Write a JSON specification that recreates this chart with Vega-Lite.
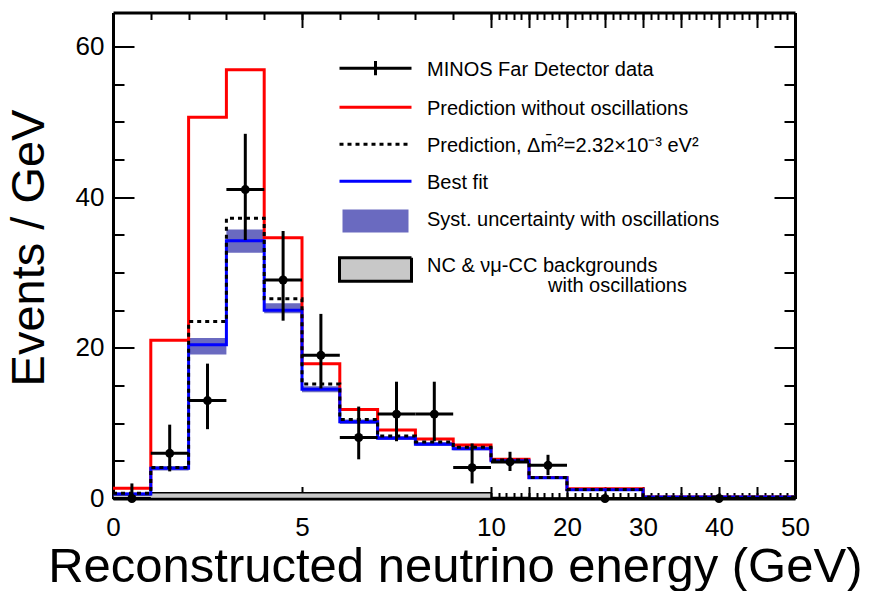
{
  "$schema": "https://vega.github.io/schema/vega-lite/v6.json",
  "width": 682,
  "height": 486,
  "autosize": {"type": "none"},
  "padding": {"left": 113, "top": 12.5, "right": 78, "bottom": 92.5},
  "background": "white",
  "config": {
    "view": {"stroke": null},
    "axis": {"grid": false, "labelFont": "Liberation Sans", "titleFont": "Liberation Sans", "labelColor": "black", "titleColor": "black", "tickColor": "black", "domainColor": "black", "tickWidth": 2, "domainWidth": 3, "titleFontWeight": "normal"},
    "legend": {"orient": "none", "legendX": 227, "legendY": 33.5, "title": null, "padding": 0,
      "symbolSize": 576, "symbolStrokeWidth": 3, "symbolOffset": 22, "labelOffset": 38,
      "rowPadding": 3, "labelFont": "Liberation Sans", "labelFontSize": 20, "labelColor": "black", "labelLimit": 0, "labelBaseline": "top"}
  },
  "datasets": {
    "hist": [
      {"e": 0, "nom": 1.35, "pred": 0.7, "fit": 0.6, "bg": 0.5},
      {"e": 1, "nom": 21.0, "pred": 4.1, "fit": 4.0, "bg": 0.75},
      {"e": 2, "nom": 50.6, "pred": 23.5, "fit": 20.4, "bg": 0.75},
      {"e": 3, "nom": 56.9, "pred": 37.2, "fit": 34.2, "bg": 0.75},
      {"e": 4, "nom": 34.6, "pred": 26.5, "fit": 25.0, "bg": 0.75},
      {"e": 5, "nom": 17.9, "pred": 15.2, "fit": 14.5, "bg": 0.75},
      {"e": 6, "nom": 11.8, "pred": 10.5, "fit": 10.2, "bg": 0.75},
      {"e": 7, "nom": 9.1, "pred": 8.3, "fit": 8.0, "bg": 0.75},
      {"e": 8, "nom": 7.9, "pred": 7.5, "fit": 7.2, "bg": 0.75},
      {"e": 9, "nom": 7.1, "pred": 6.8, "fit": 6.6, "bg": 0.75},
      {"e": 10, "nom": 5.2, "pred": 5.1, "fit": 5.0, "bg": 0.12},
      {"e": 15, "nom": 2.8, "pred": 2.8, "fit": 2.75, "bg": 0.08},
      {"e": 20, "nom": 1.3, "pred": 1.2, "fit": 1.15, "bg": 0.05},
      {"e": 30, "nom": 0.2, "pred": 0.2, "fit": 0.2, "bg": 0.02},
      {"e": 50, "nom": 0.2, "pred": 0.2, "fit": 0.2, "bg": 0.02}
    ],
    "syst": [
      {"lo": 0, "hi": 1, "slo": 0.45, "shi": 0.8},
      {"lo": 1, "hi": 2, "slo": 3.7, "shi": 4.3},
      {"lo": 2, "hi": 3, "slo": 19.1, "shi": 21.3},
      {"lo": 3, "hi": 4, "slo": 32.6, "shi": 35.7},
      {"lo": 4, "hi": 5, "slo": 24.6, "shi": 25.9},
      {"lo": 5, "hi": 6, "slo": 14.1, "shi": 14.9},
      {"lo": 6, "hi": 7, "slo": 9.9, "shi": 10.5},
      {"lo": 7, "hi": 8, "slo": 7.8, "shi": 8.3},
      {"lo": 8, "hi": 9, "slo": 7.0, "shi": 7.5},
      {"lo": 9, "hi": 10, "slo": 6.4, "shi": 6.9},
      {"lo": 10, "hi": 15, "slo": 4.85, "shi": 5.3},
      {"lo": 15, "hi": 20, "slo": 2.6, "shi": 2.95},
      {"lo": 20, "hi": 30, "slo": 1.05, "shi": 1.3},
      {"lo": 30, "hi": 50, "slo": 0.15, "shi": 0.25}
    ],
    "data": [
      {"E": 0.5, "lo": 0, "hi": 1, "n": 0, "elo": 0, "ehi": 2.0},
      {"E": 1.5, "lo": 1, "hi": 2, "n": 6.0, "elo": 3.6, "ehi": 9.8},
      {"E": 2.5, "lo": 2, "hi": 3, "n": 13.0, "elo": 9.2, "ehi": 17.9},
      {"E": 3.5, "lo": 3, "hi": 4, "n": 41.0, "elo": 34.3, "ehi": 48.4},
      {"E": 4.5, "lo": 4, "hi": 5, "n": 29.0, "elo": 23.6, "ehi": 35.5},
      {"E": 5.5, "lo": 5, "hi": 6, "n": 19.0, "elo": 14.6, "ehi": 24.5},
      {"E": 6.5, "lo": 6, "hi": 7, "n": 8.1, "elo": 5.2, "ehi": 12.2},
      {"E": 7.5, "lo": 7, "hi": 8, "n": 11.2, "elo": 7.6, "ehi": 15.5},
      {"E": 8.5, "lo": 8, "hi": 9, "n": 11.2, "elo": 7.6, "ehi": 15.5},
      {"E": 9.5, "lo": 9, "hi": 10, "n": 4.1, "elo": 2.0, "ehi": 7.3},
      {"E": 12.5, "lo": 10, "hi": 15, "n": 4.85, "elo": 3.65, "ehi": 6.2},
      {"E": 17.5, "lo": 15, "hi": 20, "n": 4.4, "elo": 3.1, "ehi": 5.8},
      {"E": 25, "lo": 20, "hi": 30, "n": 0, "elo": 0, "ehi": 0},
      {"E": 40, "lo": 30, "hi": 50, "n": 0, "elo": 0, "ehi": 0}
    ],
    "series": [
      {"s": "data"}, {"s": "nom"}, {"s": "pred"}, {"s": "fit"}, {"s": "syst"}, {"s": "bg"}
    ],
    "note": [
      {"t": "with oscillations"}
    ]
  },
  "resolve": {"axis": {"x": "independent", "y": "independent"}},
  "layer": [
    {
      "data": {"name": "hist"},
      "mark": {"type": "area", "interpolate": "step-after", "fill": "#c8c8c8", "stroke": "black", "strokeWidth": 1.5},
      "encoding": {
        "x": {"field": "e", "type": "quantitative",
          "scale": {"domain": [0, 10, 20, 50], "range": [0, 378, 454, 682], "nice": false, "zero": false},
          "axis": {"orient": "bottom", "values": [0, 5, 10, 15, 20, 25, 30, 35, 40, 45, 50], "tickSize": -12, "labelPadding": 28, "labelFontSize": 26, "labelFlush": false, "labelOverlap": false,
            "labelExpr": "indexof([15, 25, 35, 45], datum.value) >= 0 ? '' : datum.label",
            "title": "Reconstructed neutrino energy (GeV)", "titleFontSize": 49, "titleX": 749, "titleY": 83, "titleAlign": "right", "titleBaseline": "alphabetic", "titleAngle": 0}},
        "y": {"field": "bg", "type": "quantitative",
          "scale": {"domain": [0, 64.5], "nice": false, "zero": true},
          "axis": {"orient": "left", "values": [0, 20, 40, 60], "tickSize": -21, "labelPadding": 30, "labelFontSize": 26, "labelFlush": false, "labelOverlap": false,
            "title": "Events / GeV", "titleFontSize": 47, "titleX": -70, "titleY": 235, "titleAlign": "center", "titleBaseline": "alphabetic", "titleAngle": -90}}
      }
    },
    {
      "data": {"name": "syst"},
      "mark": {"type": "rect", "fill": "#6a6ac0"},
      "encoding": {
        "x": {"field": "lo", "type": "quantitative",
          "axis": {"orient": "bottom", "values": [0,1,2,3,4,5,6,7,8,9,10,11,12,13,14,15,16,17,18,19,20,21,22,23,24,25,26,27,28,29,30,31,32,33,34,35,36,37,38,39,40,41,42,43,44,45,46,47,48,49,50], "tickSize": -6, "labels": false, "domain": false, "title": null}},
        "x2": {"field": "hi"},
        "y": {"field": "slo", "type": "quantitative",
          "axis": {"orient": "left", "values": [5,10,15,25,30,35,45,50,55], "tickSize": -11, "labels": false, "domain": false, "title": null}},
        "y2": {"field": "shi"}
      }
    },
    {
      "data": {"name": "hist"},
      "mark": {"type": "line", "interpolate": "step-after", "stroke": "#ff0000", "strokeWidth": 3},
      "encoding": {
        "x": {"field": "e", "type": "quantitative",
          "axis": {"orient": "top", "values": [0, 5, 10, 15, 20, 25, 30, 35, 40, 45, 50], "tickSize": -15, "labels": false, "title": null}},
        "y": {"field": "nom", "type": "quantitative",
          "axis": {"orient": "right", "values": [0, 20, 40, 60], "tickSize": -21, "labels": false, "title": null}}
      }
    },
    {
      "data": {"name": "hist"},
      "mark": {"type": "line", "interpolate": "step-after", "stroke": "#0000ff", "strokeWidth": 3},
      "encoding": {
        "x": {"field": "e", "type": "quantitative",
          "axis": {"orient": "top", "values": [0,1,2,3,4,5,6,7,8,9,10,11,12,13,14,15,16,17,18,19,20,21,22,23,24,25,26,27,28,29,30,31,32,33,34,35,36,37,38,39,40,41,42,43,44,45,46,47,48,49,50], "tickSize": -7, "labels": false, "domain": false, "title": null}},
        "y": {"field": "fit", "type": "quantitative",
          "axis": {"orient": "right", "values": [5,10,15,25,30,35,45,50,55], "tickSize": -11, "labels": false, "domain": false, "title": null}}
      }
    },
    {
      "data": {"name": "hist"},
      "mark": {"type": "line", "interpolate": "step-after", "stroke": "#000000", "strokeWidth": 3, "strokeDash": [4, 4]},
      "encoding": {
        "x": {"field": "e", "type": "quantitative", "axis": null},
        "y": {"field": "pred", "type": "quantitative", "axis": null}
      }
    },
    {
      "data": {"name": "data"},
      "mark": {"type": "rule", "stroke": "black", "strokeWidth": 3},
      "encoding": {
        "x": {"field": "E", "type": "quantitative", "axis": null},
        "y": {"field": "elo", "type": "quantitative", "axis": null},
        "y2": {"field": "ehi"}
      }
    },
    {
      "data": {"name": "data"},
      "mark": {"type": "rule", "stroke": "black", "strokeWidth": 3},
      "encoding": {
        "x": {"field": "lo", "type": "quantitative", "axis": null},
        "x2": {"field": "hi"},
        "y": {"field": "n", "type": "quantitative", "axis": null}
      }
    },
    {
      "data": {"name": "data"},
      "mark": {"type": "point", "shape": "circle", "filled": true, "size": 80, "opacity": 1, "color": "black"},
      "encoding": {
        "x": {"field": "E", "type": "quantitative", "axis": null},
        "y": {"field": "n", "type": "quantitative", "axis": null}
      }
    },
    {
      "data": {"name": "series"},
      "transform": [{"filter": "false"}],
      "mark": {"type": "point", "size": 576, "strokeWidth": 3, "opacity": 1, "filled": false},
      "encoding": {
        "fill": {"field": "s", "type": "nominal",
          "scale": {"domain": ["data", "nom", "pred", "fit", "syst", "bg"], "range": ["transparent", "transparent", "transparent", "transparent", "#6a6ac0", "#c8c8c8"]},
          "legend": {"labelExpr": "{'data': 'MINOS Far Detector data', 'nom': 'Prediction without oscillations', 'pred': 'Prediction, Δm\u0304²=2.32×10⁻³ eV²', 'fit': 'Best fit', 'syst': 'Syst. uncertainty with oscillations', 'bg': 'NC & νμ-CC backgrounds'}[datum.value]"}},
        "stroke": {"field": "s", "type": "nominal",
          "scale": {"domain": ["data", "nom", "pred", "fit", "syst", "bg"], "range": ["#000000", "#ff0000", "#000000", "#0000ff", "transparent", "#000000"]},
          "legend": {"labelExpr": "{'data': 'MINOS Far Detector data', 'nom': 'Prediction without oscillations', 'pred': 'Prediction, Δm\u0304²=2.32×10⁻³ eV²', 'fit': 'Best fit', 'syst': 'Syst. uncertainty with oscillations', 'bg': 'NC & νμ-CC backgrounds'}[datum.value]"}},
        "shape": {"field": "s", "type": "nominal",
          "scale": {"domain": ["data", "nom", "pred", "fit", "syst", "bg"], "range": ["M-3,0.72H3M0,0.12V1.32", "M-3,0.72H3", "M-3,0.72H3", "M-3,0.72H3", "M-2.75,0H2.75V1.92H-2.75Z", "M-3,0.19H3V2.15H-3Z"]},
          "legend": {"labelExpr": "{'data': 'MINOS Far Detector data', 'nom': 'Prediction without oscillations', 'pred': 'Prediction, Δm\u0304²=2.32×10⁻³ eV²', 'fit': 'Best fit', 'syst': 'Syst. uncertainty with oscillations', 'bg': 'NC & νμ-CC backgrounds'}[datum.value]"}},
        "strokeDash": {"field": "s", "type": "nominal",
          "scale": {"domain": ["data", "nom", "pred", "fit", "syst", "bg"], "range": [[1, 0], [1, 0], [4, 4], [1, 0], [1, 0], [1, 0]]},
          "legend": {"labelExpr": "{'data': 'MINOS Far Detector data', 'nom': 'Prediction without oscillations', 'pred': 'Prediction, Δm\u0304²=2.32×10⁻³ eV²', 'fit': 'Best fit', 'syst': 'Syst. uncertainty with oscillations', 'bg': 'NC & νμ-CC backgrounds'}[datum.value]"}}
      }
    },
    {
      "data": {"name": "note"},
      "transform": [{"filter": "false"}],
      "mark": {"type": "point", "size": 0, "strokeWidth": 0, "opacity": 0, "filled": true},
      "encoding": {
        "color": {"field": "t", "type": "nominal",
          "scale": {"domain": ["with oscillations"], "range": ["transparent"]},
          "legend": {"orient": "none", "legendX": 415, "legendY": 269, "symbolSize": 0, "symbolStrokeWidth": 0, "symbolOpacity": 0, "symbolOffset": 0, "labelOffset": 0, "labelBaseline": "alphabetic"}}
      }
    }
  ]
}
